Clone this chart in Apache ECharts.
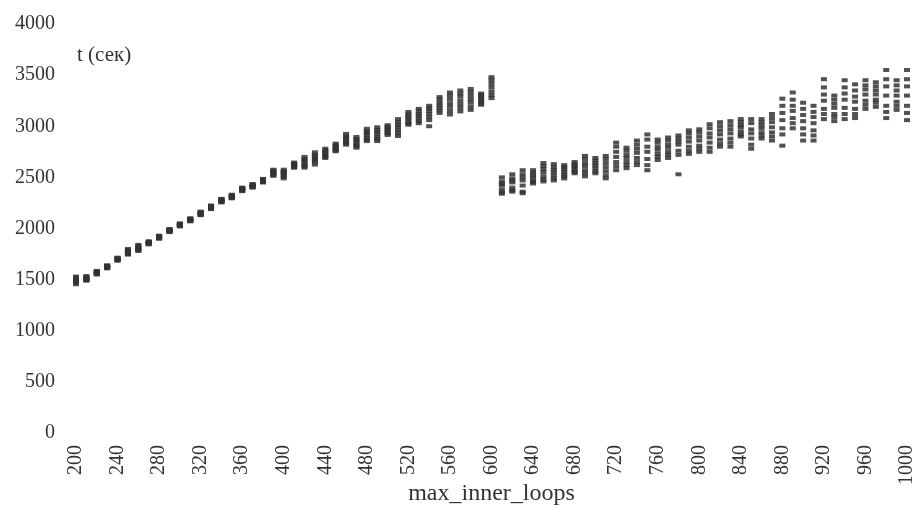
<!DOCTYPE html>
<html>
<head>
<meta charset="utf-8">
<title>t (сек) vs max_inner_loops</title>
<script src="https://cdn.jsdelivr.net/npm/echarts@6/dist/echarts.min.js"></script>
<style>
  html, body { margin: 0; padding: 0; background: #ffffff; }
  #chart { width: 917px; height: 506px; }
</style>
</head>
<body>
<div id="chart"></div>
<script>
// max_inner_loops settings that were measured
const loops = [
  200, 210, 220, 230, 240, 250, 260, 270, 280, 290,
  300, 310, 320, 330, 340, 350, 360, 370, 380, 390,
  400, 410, 420, 430, 440, 450, 460, 470, 480, 490,
  500, 510, 520, 530, 540, 550, 560, 570, 580, 590,
  600, 610, 620, 630, 640, 650, 660, 670, 680, 690,
  700, 710, 720, 730, 740, 750, 760, 770, 780, 790,
  800, 810, 820, 830, 840, 850, 860, 870, 880, 890,
  900, 910, 920, 930, 940, 950, 960, 970, 980, 990,
  1000
];

// Run times in seconds, one array per repeated run (same order as loops)
const run1 = [
  1470, 1500, 1565, 1625, 1700, 1770, 1805, 1860, 1915, 1980, 2035, 2085, 2150, 2205, 2270, 2310, 2385, 2415, 2470, 2545,
  2540, 2620, 2645, 2690, 2735, 2790, 2870, 2840, 2915, 2920, 2965, 2990, 3075, 3100, 3120, 3205, 3225, 3250, 3265, 3265, 3380,
  2420, 2450, 2470, 2500, 2550, 2550, 2555, 2595, 2610, 2615, 2600, 2700, 2690, 2740, 2750, 2770, 2790, 2820, 2850, 2860,
  2890, 2920, 2930, 2990, 2930, 2980, 2990, 3060, 3150, 3050, 3030, 3250, 3180, 3260, 3240, 3310, 3310, 3300, 3300, 3300
];
const run2 = [
  1495, 1515, 1550, 1610, 1685, 1745, 1780, 1845, 1900, 1965, 2020, 2070, 2130, 2190, 2255, 2295, 2365, 2400, 2450, 2515,
  2490, 2595, 2595, 2625, 2690, 2755, 2820, 2790, 2855, 2855, 2915, 2905, 3015, 3030, 3000, 3130, 3115, 3145, 3160, 3210, 3275,
  2340, 2360, 2345, 2440, 2460, 2470, 2490, 2540, 2510, 2540, 2490, 2570, 2590, 2620, 2570, 2670, 2690, 2530, 2730, 2750,
  2750, 2800, 2800, 2900, 2780, 2880, 2860, 2810, 2980, 2860, 2860, 3070, 3050, 3070, 3080, 3170, 3190, 3080, 3160, 3060
];
const run3 = [
  1510, 1490, 1580, 1640, 1710, 1800, 1830, 1875, 1930, 1995, 2050, 2100, 2165, 2225, 2290, 2330, 2400, 2435, 2485, 2575,
  2575, 2645, 2700, 2745, 2780, 2830, 2925, 2895, 2975, 2990, 3010, 3070, 3140, 3170, 3200, 3285, 3330, 3350, 3365, 3320, 3480,
  2500, 2530, 2570, 2570, 2640, 2630, 2620, 2650, 2710, 2690, 2710, 2840, 2790, 2860, 2920, 2870, 2890, 2910, 2960, 2970,
  3020, 3040, 3050, 3070, 3070, 3070, 3120, 3270, 3330, 3230, 3200, 3460, 3300, 3450, 3410, 3450, 3430, 3550, 3450, 3550
];
const run4 = [
  1455, 1525, 1570, 1620, 1690, 1760, 1795, 1855, 1910, 1975, 2030, 2080, 2140, 2200, 2265, 2305, 2375, 2410, 2460, 2530,
  2520, 2610, 2625, 2670, 2715, 2775, 2850, 2820, 2890, 2895, 2945, 2960, 3050, 3075, 3090, 3180, 3190, 3215, 3235, 3245, 3340,
  2380, 2400, 2420, 2470, 2510, 2520, 2530, 2570, 2570, 2590, 2560, 2650, 2650, 2690, 2680, 2730, 2750, 2760, 2800, 2810,
  2840, 2870, 2880, 2950, 2880, 2940, 2940, 2980, 3080, 2980, 2960, 3170, 3120, 3180, 3170, 3250, 3260, 3200, 3240, 3200
];
const run5 = [
  1530, 1505, 1555, 1635, 1715, 1790, 1815, 1870, 1925, 1990, 2045, 2095, 2160, 2215, 2280, 2320, 2395, 2425, 2480, 2560,
  2560, 2635, 2680, 2720, 2765, 2815, 2900, 2875, 2950, 2965, 2995, 3040, 3115, 3145, 3175, 3260, 3300, 3320, 3335, 3305, 3450,
  2460, 2490, 2530, 2545, 2610, 2600, 2600, 2630, 2680, 2665, 2680, 2800, 2760, 2820, 2870, 2840, 2860, 2880, 2930, 2940,
  2980, 3000, 3010, 3040, 3030, 3040, 3080, 3200, 3260, 3170, 3140, 3380, 3260, 3380, 3350, 3400, 3390, 3460, 3400, 3460
];
const run6 = [
  1485, 1535, 1575, 1615, 1695, 1750, 1790, 1850, 1905, 1970, 2025, 2075, 2135, 2195, 2260, 2300, 2370, 2405, 2455, 2525,
  2505, 2600, 2610, 2650, 2700, 2765, 2835, 2805, 2870, 2875, 2930, 2935, 3030, 3050, 3060, 3155, 3150, 3180, 3195, 3225, 3305,
  2355, 2375, 2360, 2455, 2480, 2490, 2510, 2555, 2540, 2560, 2520, 2610, 2620, 2650, 2620, 2700, 2720, 2720, 2760, 2780,
  2790, 2830, 2840, 2920, 2820, 2910, 2900, 2920, 3030, 2920, 2910, 3120, 3090, 3120, 3120, 3210, 3230, 3140, 3200, 3130
];
const run7 = [
  1520, 1495, 1585, 1630, 1705, 1780, 1840, 1865, 1920, 1985, 2040, 2090, 2155, 2220, 2285, 2325, 2390, 2430, 2475, 2565,
  2550, 2630, 2665, 2705, 2750, 2805, 2890, 2860, 2935, 2945, 2980, 3015, 3095, 3120, 3150, 3230, 3265, 3290, 3300, 3285, 3415,
  2440, 2470, 2500, 2520, 2580, 2575, 2580, 2610, 2640, 2640, 2640, 2750, 2720, 2780, 2800, 2800, 2820, 2850, 2890, 2900,
  2930, 2960, 2970, 3010, 2970, 3010, 3040, 3130, 3200, 3110, 3090, 3310, 3220, 3320, 3290, 3360, 3350, 3390, 3350, 3390
];

const runs = [run1, run2, run3, run4, run5, run6, run7];

const yTitle = 't (сек)';
const xTitle = 'max_inner_loops';

const FONT = '"Liberation Serif", "Times New Roman", serif';
const INK = '#333333';

// plain integers, no thousands separators
const plain = v => String(v);

const chart = echarts.init(document.getElementById('chart'), null, { renderer: 'canvas' });

chart.setOption({
  animation: false,
  backgroundColor: '#ffffff',
  grid: {
    left: 76, right: 10, top: 24, bottom: 73,
    containLabel: false,
    outerBoundsMode: 'none'
  },
  graphic: [{
    type: 'text',
    left: 77,
    top: 45,
    style: { text: yTitle, font: '21px ' + FONT, fill: INK }
  }],
  xAxis: {
    type: 'value',
    min: 200,
    max: 1000,
    interval: 40,
    name: xTitle,
    nameLocation: 'middle',
    nameGap: 49,
    nameMoveOverlap: false,
    nameTextStyle: { fontFamily: FONT, fontSize: 24, color: INK },
    axisLine: { show: false },
    axisTick: { show: false },
    splitLine: { show: false },
    axisLabel: {
      rotate: 90,
      margin: 12,
      fontFamily: FONT,
      fontSize: 20,
      color: INK,
      formatter: plain
    }
  },
  yAxis: {
    type: 'value',
    min: 0,
    max: 4000,
    interval: 500,
    axisLine: { show: false },
    axisTick: { show: false },
    splitLine: { show: false },
    axisLabel: {
      margin: 21,
      fontFamily: FONT,
      fontSize: 20,
      color: INK,
      formatter: plain
    }
  },
  series: runs.map((r, k) => ({
    name: 'run ' + (k + 1),
    type: 'scatter',
    symbol: 'rect',
    symbolSize: [6, 4],
    itemStyle: { color: '#333333', opacity: 0.85 },
    data: loops.map((x, i) => [x, r[i]])
  }))
});
</script>
</body>
</html>
